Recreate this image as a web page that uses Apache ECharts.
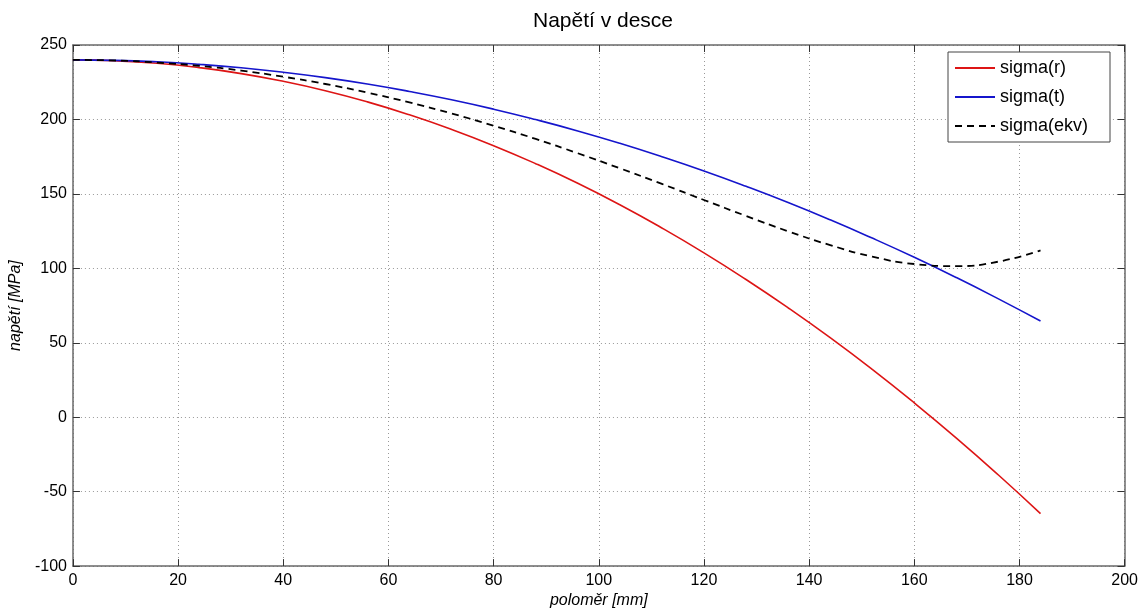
<!DOCTYPE html>
<html><head><meta charset="utf-8">
<script src="https://cdn.jsdelivr.net/npm/echarts@6/dist/echarts.min.js"></script>
<style>html,body{margin:0;padding:0;background:#fff}#c{width:1141px;height:614px}</style>
</head><body><div id="c"></div>
<script>
const radius = [0,8,16,24,32,40,48,56,64,72,80,88,96,104,112,120,128,136,144,152,160,168,176,184];
const sigmaR = [240,239.4,237.7,234.8,230.8,225.6,219.3,211.8,203.1,193.3,182.4,170.3,157.1,142.7,127.1,110.4,92.5,73.5,53.4,32.1,9.6,-14.0,-38.8,-64.7];
const sigmaT = [240,239.7,238.7,237.0,234.7,231.7,228.1,223.8,218.8,213.2,206.9,199.9,192.3,184.0,175.0,165.4,155.1,144.2,132.6,120.3,107.4,93.8,79.5,64.6];
const sigmaEkv = [240,239.6,238.2,236.0,232.8,228.7,223.8,218.0,211.4,204.0,195.8,186.9,177.3,167.2,156.7,145.9,135.2,124.9,115.6,107.9,102.9,101.5,104.5,112.0];
const xTicks = [0,20,40,60,80,100,120,140,160,180,200];
const yTicks = [-100,-50,0,50,100,150,200,250];
const seriesNames = ['sigma(r)','sigma(t)','sigma(ekv)'];

const pair = (ys) => radius.map((x,i)=>[x,ys[i]]);
const font = 'Liberation Sans, Arial, sans-serif';
const axisColor = '#6a6a6a';
const chart = echarts.init(document.getElementById('c'));
const baseX = {type:'value',min:0,max:200,interval:20,
  axisLine:{show:true,onZero:false,lineStyle:{color:axisColor,width:1.5}},
  axisTick:{show:true,inside:true,length:7,lineStyle:{color:'#333'}},
  splitLine:{show:false}};
const baseY = {type:'value',min:-100,max:250,interval:50,
  axisLine:{show:true,onZero:false,lineStyle:{color:axisColor,width:1.5}},
  axisTick:{show:true,inside:true,length:7,lineStyle:{color:'#333'}},
  splitLine:{show:false}};
chart.setOption({
  animation:false,
  title:{text:'Napětí v desce',left:598,top:6,textAlign:'center',
    textStyle:{fontFamily:font,fontSize:21,fontWeight:'normal',color:'#000'}},
  grid:{left:72,right:16,top:45,bottom:42,containLabel:false},
  legend:{orient:'vertical',left:948,top:52,backgroundColor:'#fff',borderColor:'#444',borderWidth:1,
    padding:[7,22,7,6],itemWidth:40,itemHeight:14,itemGap:11,
    itemStyle:{opacity:0},
    textStyle:{fontFamily:font,fontSize:18,color:'#000'},data:seriesNames},
  xAxis:[
    Object.assign({},baseX,{position:'bottom',
      name:'poloměr [mm]',nameLocation:'middle',nameGap:26,
      nameTextStyle:{fontFamily:font,fontSize:16,fontStyle:'italic',color:'#000'},
      axisLabel:{fontFamily:font,fontSize:16,color:'#000',margin:6,
        formatter:v=>xTicks.includes(v)?String(v):''},
      splitLine:{show:true,lineStyle:{color:'#999',type:[1,3],width:1}}}),
    Object.assign({},baseX,{position:'top',axisLabel:{show:false}})
  ],
  yAxis:[
    Object.assign({},baseY,{position:'left',
      name:'napětí [MPa]',nameLocation:'middle',nameGap:46,nameRotate:90,
      nameTextStyle:{fontFamily:font,fontSize:16,fontStyle:'italic',color:'#000'},
      axisLabel:{fontFamily:font,fontSize:16,color:'#000',margin:6,
        formatter:v=>yTicks.includes(v)?String(v):''},
      splitLine:{show:true,lineStyle:{color:'#999',type:[1,3],width:1}}}),
    Object.assign({},baseY,{position:'right',axisLabel:{show:false}})
  ],
  series:[
    {name:seriesNames[0],type:'line',smooth:true,symbol:'none',data:pair(sigmaR),
      lineStyle:{color:'#dd1515',width:1.6},itemStyle:{color:'#dd1515'}},
    {name:seriesNames[1],type:'line',smooth:true,symbol:'none',data:pair(sigmaT),
      lineStyle:{color:'#1515cc',width:1.6},itemStyle:{color:'#1515cc'}},
    {name:seriesNames[2],type:'line',smooth:true,symbol:'none',data:pair(sigmaEkv),
      lineStyle:{color:'#000',width:1.8,type:[7,5]},itemStyle:{color:'#000'}}
  ]
});
</script></body></html>
